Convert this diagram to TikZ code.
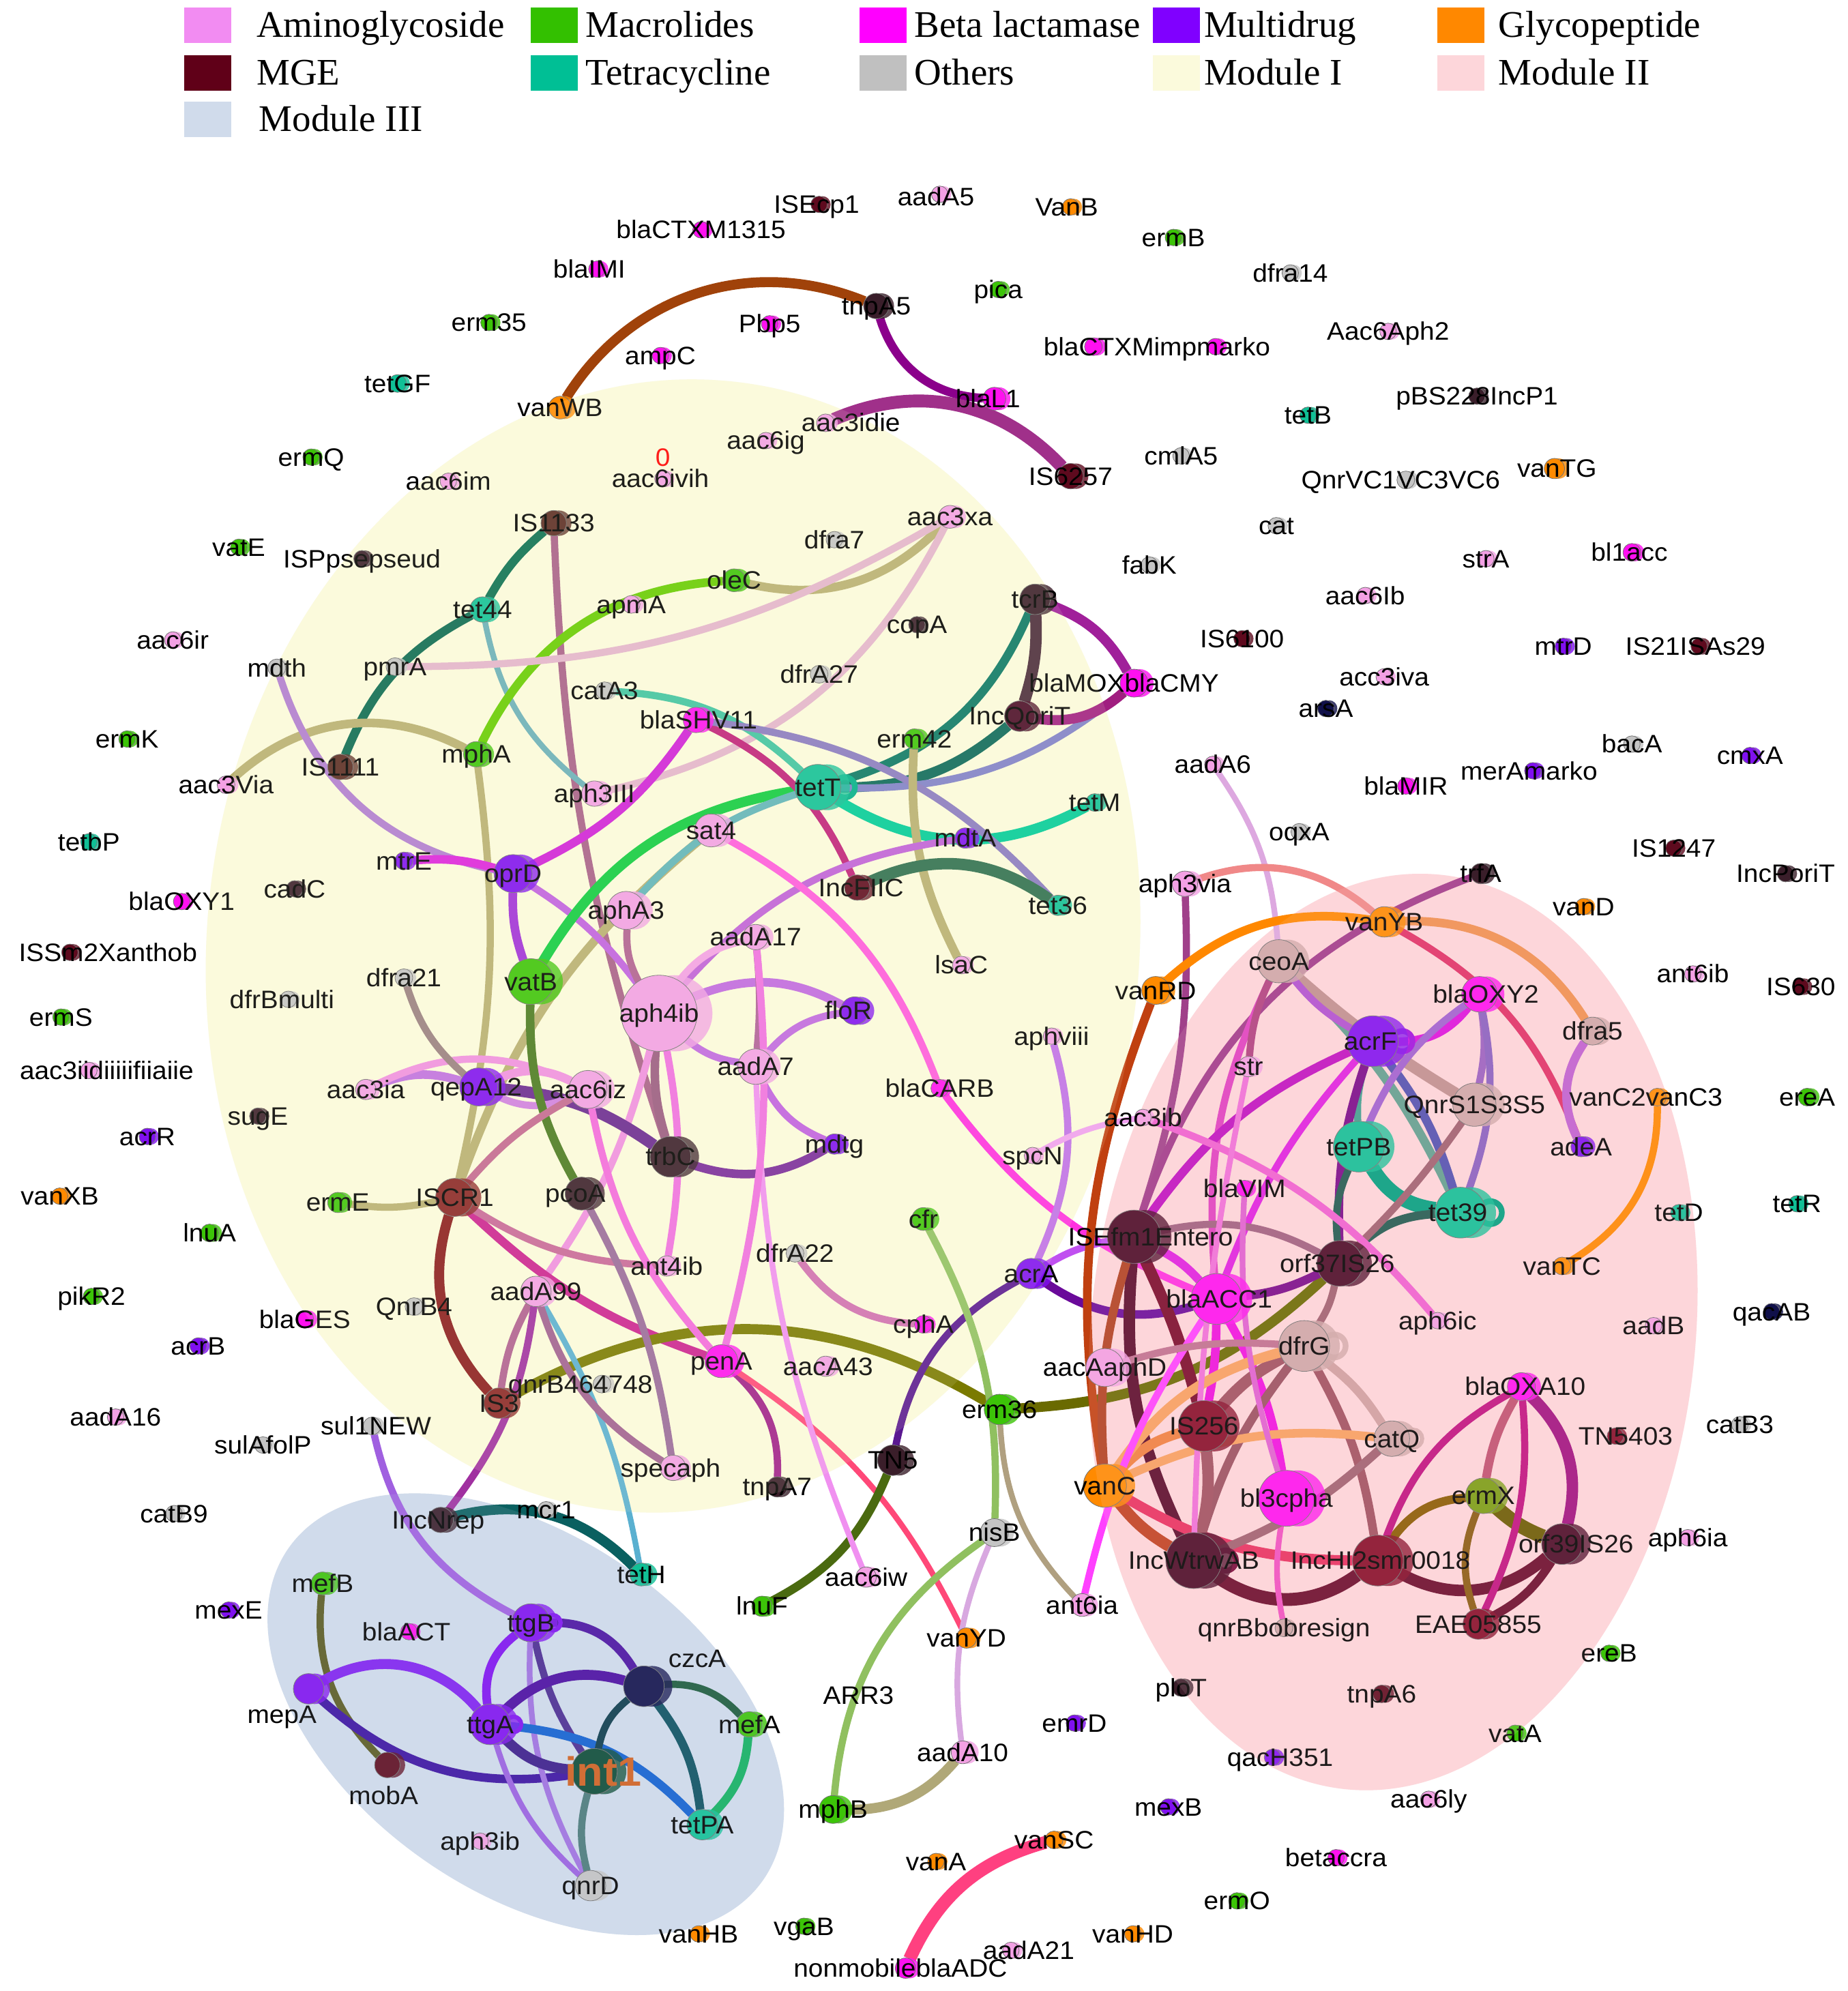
\documentclass[tikz,border=0pt]{standalone}
\usepackage{fontspec}
\usetikzlibrary{calc}
\newfontfamily\labf[FakeStretch=1.05]{Liberation Sans}
\newfontfamily\legf{Liberation Serif}
\pgfdeclarelayer{bg}\pgfdeclarelayer{edges}\pgfdeclarelayer{labels}\pgfdeclarelayer{over}
\pgfsetlayers{bg,edges,main,labels,over}
\definecolor{Am}{HTML}{F3A0E4}
\definecolor{Ma}{HTML}{3CC408}
\definecolor{MaO}{HTML}{7A9E12}
\definecolor{Be}{HTML}{FF10F0}
\definecolor{Mu}{HTML}{8010F0}
\definecolor{Gl}{HTML}{FF8A00}
\definecolor{Mg}{HTML}{5E0A1E}
\definecolor{MgD}{HTML}{4A0A26}
\definecolor{Mr}{HTML}{860C28}
\definecolor{Mr2}{HTML}{8A2424}
\definecolor{Br}{HTML}{5A2A22}
\definecolor{Dk}{HTML}{3A1E2A}
\definecolor{Nv}{HTML}{10104A}
\definecolor{Te}{HTML}{10C096}
\definecolor{Ot}{HTML}{C4C4C4}
\definecolor{OtP}{HTML}{CFA8A8}
\definecolor{IntG}{HTML}{0A4A34}
\definecolor{IntO}{HTML}{D2601E}
\definecolor{LAm}{HTML}{F28CF2}
\definecolor{LMa}{HTML}{33C000}
\definecolor{LBe}{HTML}{FF00FF}
\definecolor{LMu}{HTML}{8000FF}
\definecolor{LGl}{HTML}{FF8800}
\definecolor{LMg}{HTML}{600018}
\definecolor{LTe}{HTML}{00BF95}
\definecolor{LOt}{HTML}{C0C0C0}
\definecolor{mI}{HTML}{FBFADC}
\definecolor{mII}{HTML}{FDD6DA}
\definecolor{mIII}{HTML}{D0DBEB}
\definecolor{txI}{HTML}{3A3A24}
\tikzset{
 nc/.style={circle,draw=black!55,line width=0.8pt,inner sep=0pt,outer sep=0pt},
 lab/.style={font=\labf\fontsize{37}{40}\selectfont,inner sep=0pt,text height=26pt,text depth=0pt,anchor=center},
 leg/.style={font=\legf\fontsize{55}{60}\selectfont,inner sep=0pt},
}
\newcommand\nd[6]{%
 \fill[#4,fill opacity=0.8] ($(#2)+(0.4*#3,0)$) circle[radius=#3*1.862pt];
 \node[nc,fill=#4,minimum size=#3*3.724pt] (#1) at (#2) {};
 \begin{pgfonlayer}{labels}\node[lab] at ($(#2)+(#6)$) {#5};\end{pgfonlayer}}
\newcommand\E[5]{\definecolor{tmpc}{HTML}{#1}\draw[tmpc,line width=#2*2.1pt] (#4) to[#3] (#5);}
\newcommand\ring[4]{\definecolor{tmpc}{HTML}{#3}\draw[tmpc,line width=#4*2.1pt] ($(#1.east)+(0.4*#2,0)$) circle[radius=#2*1.862pt];}
\newcommand\legitem[5]{\fill[#3] (#1,#2-14) rectangle (#1+37,#2+14);
 \node[leg,anchor=base west] at (#4,#2+9.5) {#5};}
\begin{document}
\begin{tikzpicture}[x=1.862pt,y=-1.862pt]
\useasboundingbox (0,0) rectangle (1455,1568);
\begin{pgfonlayer}{bg}
\fill[white] (0,0) rectangle (1455,1568);
\fill[mI,rotate around={-6:(530,745)}] (530,745) ellipse[x radius=367*1.862pt,y radius=447*1.862pt];
\fill[mII,rotate around={-6:(1097,1049)}] (1097,1049) ellipse[x radius=238*1.862pt,y radius=362*1.862pt];
\fill[mIII,rotate around={-35:(414,1350)}] (414,1350) ellipse[x radius=228*1.862pt,y radius=140*1.862pt];
\end{pgfonlayer}
% legend
\legitem{145}{20}{LAm}{202}{Aminoglycoside}
\legitem{418}{20}{LMa}{461}{Macrolides}
\legitem{677}{20}{LBe}{720}{Beta lactamase}
\legitem{908}{20}{LMu}{948}{Multidrug}
\legitem{1132}{20}{LGl}{1180}{Glycopeptide}
\legitem{145}{57.5}{LMg}{202}{MGE}
\legitem{418}{57.5}{LTe}{461}{Tetracycline}
\legitem{677}{57.5}{LOt}{720}{Others}
\legitem{908}{57.5}{mI}{948}{Module I}
\legitem{1132}{57.5}{mII}{1180}{Module II}
\legitem{145}{94}{mIII}{204}{Module III}
% nodes
\nd{ISEcp1}{645,161}{6.5}{Mg}{ISEcp1}{-2,0}
\nd{aadA5}{740,153}{6.5}{Am}{aadA5}{-3,2}
\nd{VanB}{843,163}{6.5}{Gl}{VanB}{-3,0}
\nd{blaCTXM1315}{552,181}{6.5}{Be}{blaCTXM1315}{0,0}
\nd{ermB}{924,187}{6.5}{Ma}{ermB}{0,0}
\nd{blaIMI}{470,212}{6.5}{Be}{blaIMI}{-6,0}
\nd{dfra14}{1016,215}{6.5}{Ot}{dfra14}{0,0}
\nd{pica}{786,228}{6.5}{Ma}{pica}{0,0}
\nd{erm35}{385,254}{6.5}{Ma}{erm35}{0,0}
\nd{tnpA5}{690,241}{10}{Dk}{tnpA5}{0,0}
\nd{Pbp5}{606,255}{6.5}{Be}{Pbp5}{0,0}
\nd{Aac6Aph2}{1093,261}{6.5}{Am}{Aac6Aph2}{0,0}
\nd{blaCTXM}{861,273}{7}{Be}{blaCTXMimpmarko}{50,0}
\nd{impmarko}{957,273}{6.5}{Be}{}{0,0}
\nd{ampC}{520,280}{6.5}{Be}{ampC}{0,0}
\nd{tetGF}{313,302}{7}{Te}{tetGF}{0,0}
\nd{vanWB}{441,321}{9}{Gl}{vanWB}{0,0}
\nd{tetB}{1030,327}{6.5}{Te}{tetB}{0,0}
\nd{pBS228IncP1}{1163,312}{6.5}{Dk}{pBS228IncP1}{0,0}
\nd{blaL1}{783,314}{9}{Be}{blaL1}{-5,0}
\nd{aac3idie}{650,333}{7}{Am}{aac3idie}{20,0}
\nd{aac6ig}{603,347}{6.5}{Am}{aac6ig}{0,0}
\nd{aac6ivih}{522,377}{6.5}{Am}{aac6ivih}{-2,0}
\nd{aac6im}{353,379}{6.5}{Am}{aac6im}{0,0}
\nd{ermQ}{245,360}{6.5}{Ma}{ermQ}{0,0}
\nd{IS6257}{843,375}{10}{Mg}{IS6257}{0,0}
\nd{cmlA5}{930,359}{6.5}{Ot}{cmlA5}{0,0}
\nd{QnrVC1VC3VC6}{1107,378}{7}{Ot}{QnrVC1VC3VC6}{-4,0}
\nd{vanTG}{1224,369}{8}{Gl}{vanTG}{2,0}
\nd{vatE}{188,431}{6.5}{Ma}{vatE}{0,0}
\nd{ISPp}{285,440}{6.5}{Dk}{ISPpsepseud}{0,0}
\nd{IS1133}{436,412}{10}{Br}{IS1133}{0,0}
\nd{dfra7}{657,425}{6.5}{Ot}{dfra7}{0,0}
\nd{aac3xa}{748,407}{9}{Am}{aac3xa}{0,0}
\nd{cat}{1005,414}{6.5}{Ot}{cat}{0,0}
\nd{strA}{1170,440}{6.5}{Am}{strA}{0,0}
\nd{bl1acc}{1285,435}{7}{Be}{bl1acc}{-2,0}
\nd{fabK}{905,445}{6.5}{Ot}{fabK}{0,0}
\nd{oleC}{578,457}{9}{Ma}{oleC}{0,0}
\nd{tet44}{380,480}{10}{Te}{tet44}{0,0}
\nd{apmA}{497,476}{7}{Am}{apmA}{0,0}
\nd{copA}{722,492}{6.5}{Dk}{copA}{0,0}
\nd{tcrB}{815,472}{12}{Dk}{tcrB}{0,0}
\nd{aac6Ib}{1075,469}{6.5}{Am}{aac6Ib}{0,0}
\nd{IS6100}{978,503}{6.5}{Mg}{IS6100}{0,0}
\nd{mtrD}{1231,509}{6.5}{Mu}{mtrD}{0,0}
\nd{IS21ISAs29}{1338,509}{6.5}{Mg}{IS21ISAs29}{-3,0}
\nd{aac6ir}{136,504}{6.5}{Am}{aac6ir}{0,0}
\nd{mdth}{218,526}{7}{Ot}{mdth}{0,0}
\nd{pmrA}{311,525}{7}{Ot}{pmrA}{0,0}
\nd{catA3}{476,544}{7}{Ot}{catA3}{0,0}
\nd{dfrA27}{645,531}{7}{Ot}{dfrA27}{0,0}
\nd{blaSHV11}{548,567}{10}{Be}{blaSHV11}{2,0}
\nd{blaMOX}{893,538}{11}{Be}{blaMOXblaCMY}{-8,0}
\nd{IncQoriT}{803,564}{12}{MgD}{IncQoriT}{0,0}
\nd{acc3iva}{1090,533}{6.5}{Am}{acc3iva}{0,0}
\nd{arsA}{1044,558}{6.5}{Nv}{arsA}{0,0}
\nd{ermK}{100,582}{6.5}{Ma}{ermK}{0,0}
\nd{IS1111}{268,604}{10}{Br}{IS1111}{0,0}
\nd{mphA}{375,594}{10}{Ma}{mphA}{0,0}
\nd{erm42}{720,582}{8}{Ma}{erm42}{0,0}
\nd{tetT}{644,620}{18}{Te}{tetT}{0,0}
\nd{aadA6}{955,602}{6.5}{Am}{aadA6}{0,0}
\nd{blaMIR}{1107,619}{6.5}{Be}{blaMIR}{0,0}
\nd{merAmarko}{1207,607}{6.5}{Mu}{merAmarko}{-3,0}
\nd{bacA}{1285,586}{6.5}{Ot}{bacA}{0,0}
\nd{cmxA}{1378,595}{6.5}{Mu}{cmxA}{0,0}
\nd{aac3Via}{178,618}{7}{Am}{aac3Via}{0,0}
\nd{aph3III}{468,625}{10}{Am}{aph3III}{0,0}
\nd{sat4}{560,654}{13}{Am}{sat4}{0,0}
\nd{tetM}{862,632}{7}{Te}{tetM}{0,0}
\nd{tetbP}{70,663}{6.5}{Te}{tetbP}{0,0}
\nd{oqxA}{1023,655}{6.5}{Ot}{oqxA}{0,0}
\nd{IS1247}{1318,668}{6.5}{Mg}{IS1247}{0,0}
\nd{IncPoriT}{1406,688}{6.5}{Dk}{IncPoriT}{0,0}
\nd{mtrE}{318,678}{7}{Mu}{mtrE}{0,0}
\nd{oprD}{404,688}{15}{Mu}{oprD}{0,0}
\nd{mdtA}{760,660}{8}{Mu}{mdtA}{0,0}
\nd{cadC}{232,700}{6.5}{Dk}{cadC}{0,0}
\nd{blaOXY1}{143,710}{6.5}{Be}{blaOXY1}{0,0}
\nd{aphA3}{493,717}{15}{Am}{aphA3}{0,0}
\nd{IncFIIC}{675,699}{10}{Mg}{IncFIIC}{3,0}
\nd{tet36}{833,713}{8}{Te}{tet36}{0,0}
\nd{aph3via}{933,696}{10}{Am}{aph3via}{0,0}
\nd{trfA}{1166,688}{8}{Dk}{trfA}{0,0}
\nd{vanD}{1247,714}{6.5}{Gl}{vanD}{0,0}
\nd{ISSm2}{55,750}{6.5}{Mg}{ISSm2Xanthob}{30,0}
\nd{aadA17}{595,738}{10}{Am}{aadA17}{0,0}
\nd{lsaC}{757,760}{7}{Am}{lsaC}{0,0}
\nd{vanYB}{1090,726}{12}{Gl}{vanYB}{0,0}
\nd{ceoA}{1007,757}{17}{OtP}{ceoA}{0,0}
\nd{dfra21}{318,770}{7}{Ot}{dfra21}{0,0}
\nd{vatB}{418,773}{18}{Ma}{vatB}{0,0}
\nd{aph4ib}{519,798}{30}{Am}{aph4ib}{0,0}
\nd{floR}{673,796}{11}{Mu}{floR}{-5,0}
\nd{vanRD}{910,780}{11}{Gl}{vanRD}{0,0}
\nd{blaOXY2}{1165,783}{14}{Be}{blaOXY2}{5,0}
\nd{dfrBmulti}{227,787}{6.5}{Ot}{dfrBmulti}{-5,0}
\nd{ermS}{48,801}{6.5}{Ma}{ermS}{0,0}
\nd{ant6ib}{1333,767}{6.5}{Am}{ant6ib}{0,0}
\nd{IS630}{1418,777}{6.5}{Mg}{IS630}{0,0}
\nd{dfra5}{1254,812}{11}{OtP}{dfra5}{0,0}
\nd{acrF}{1081,820}{20}{Mu}{acrF}{-2,0}
\nd{aphviii}{828,816}{6.5}{Am}{aphviii}{0,0}
\nd{aac3iid}{70,843}{6.5}{Am}{aac3iidiiiiifiiaiie}{14,0}
\nd{qepA12}{377,856}{15}{Mu}{qepA12}{-2,0}
\nd{aac3ia}{288,858}{8}{Am}{aac3ia}{0,0}
\nd{aac6iz}{463,858}{15}{Am}{aac6iz}{0,0}
\nd{aadA7}{595,840}{14}{Am}{aadA7}{0,0}
\nd{blaCARB}{740,857}{7}{Be}{blaCARB}{0,0}
\nd{str}{983,840}{8}{Am}{str}{0,0}
\nd{QnrS}{1161,870}{17}{OtP}{QnrS1S3S5}{0,0}
\nd{mdtg}{657,901}{8}{Mu}{mdtg}{0,0}
\nd{trbC}{528,911}{16}{Dk}{trbC}{0,0}
\nd{sugE}{203,879}{6.5}{Dk}{sugE}{0,0}
\nd{aac3ib}{900,880}{6.5}{Am}{aac3ib}{0,0}
\nd{spcN}{813,910}{6.5}{Am}{spcN}{0,0}
\nd{tetPB}{1070,903}{20}{Te}{tetPB}{0,0}
\nd{adeA}{1245,903}{8}{Mu}{adeA}{0,0}
\nd{vanC2vanC3}{1305,864}{7}{Gl}{vanC2vanC3}{-9,0}
\nd{ereA}{1423,864}{7}{Ma}{ereA}{0,0}
\nd{acrR}{116,895}{6.5}{Mu}{acrR}{0,0}
\nd{vanXB}{47,942}{6.5}{Gl}{vanXB}{0,0}
\nd{ermE}{266,947}{8}{Ma}{ermE}{0,0}
\nd{ISCR1}{358,943}{15}{Mr2}{ISCR1}{0,0}
\nd{pcoA}{458,940}{13}{Dk}{pcoA}{-5,0}
\nd{blaVIM}{980,936}{6.5}{Be}{blaVIM}{0,0}
\nd{tet39}{1150,955}{20}{Te}{tet39}{-2,0}
\nd{cfr}{727,960}{9}{Ma}{cfr}{0,0}
\nd{ISEfm1}{893,974}{21}{MgD}{ISEfm1Entero}{13,0}
\nd{orf37IS26}{1055,995}{18}{MgD}{orf37IS26}{-2,0}
\nd{tetD}{1322,955}{6.5}{Te}{tetD}{0,0}
\nd{tetR}{1415,948}{6.5}{Te}{tetR}{0,0}
\nd{lnuA}{165,971}{7}{Ma}{lnuA}{0,0}
\nd{acrA}{812,1003}{12}{Mu}{acrA}{0,0}
\nd{ant4ib}{525,997}{8}{Am}{ant4ib}{0,0}
\nd{dfrA22}{626,987}{7}{Ot}{dfrA22}{0,0}
\nd{blaACC1}{958,1023}{20}{Be}{blaACC1}{2,0}
\nd{vanTC}{1230,997}{7}{Gl}{vanTC}{0,0}
\nd{pikR2}{72,1021}{6.5}{Ma}{pikR2}{0,0}
\nd{blaGES}{240,1039}{7}{Be}{blaGES}{0,0}
\nd{QnrB4}{326,1029}{7}{Ot}{QnrB4}{0,0}
\nd{aadA99}{422,1017}{12}{Am}{aadA99}{0,0}
\nd{cphA}{727,1043}{7}{Be}{cphA}{0,0}
\nd{aph6ic}{1132,1040}{6.5}{Am}{aph6ic}{0,0}
\nd{aadB}{1302,1044}{6.5}{Am}{aadB}{0,0}
\nd{qacAB}{1395,1033}{6.5}{Nv}{qacAB}{0,0}
\nd{acrB}{156,1060}{6.5}{Mu}{acrB}{0,0}
\nd{aacAaphD}{870,1077}{15}{Am}{aacAaphD}{0,0}
\nd{dfrG}{1027,1060}{20}{OtP}{dfrG}{0,0}
\nd{penA}{568,1072}{13}{Be}{penA}{0,0}
\nd{qnrB46}{474,1090}{7}{Ot}{qnrB464748}{-17,0}
\nd{IS3}{393,1105}{12}{Mr2}{IS3}{0,0}
\nd{aacA43}{650,1076}{8}{Am}{aacA43}{2,0}
\nd{blaOXA10}{1198,1092}{11}{Be}{blaOXA10}{3,0}
\nd{aadA16}{91,1116}{6.5}{Am}{aadA16}{0,0}
\nd{erm36}{787,1110}{12}{Ma}{erm36}{0,0}
\nd{TN5403}{1272,1131}{6.5}{Mr}{TN5403}{8,0}
\nd{catB3}{1370,1122}{6.5}{Ot}{catB3}{0,0}
\nd{IS256}{948,1123}{20}{Mr}{IS256}{0,0}
\nd{catQ}{1096,1133}{14}{OtP}{catQ}{0,0}
\nd{sul1NEW}{293,1123}{7}{Ot}{sul1NEW}{3,0}
\nd{sulAfolP}{207,1138}{6.5}{Ot}{sulAfolP}{0,0}
\nd{TN5}{703,1150}{12}{Dk}{TN5}{0,0}
\nd{tnpA7}{612,1171}{8}{Dk}{tnpA7}{0,0}
\nd{specaph}{530,1156}{10}{Am}{specaph}{-2,0}
\nd{vanC}{870,1170}{17}{Gl}{vanC}{0,0}
\nd{bl3cpha}{1013,1180}{22}{Be}{bl3cpha}{0,0}
\nd{catB9}{137,1192}{6.5}{Ot}{catB9}{0,0}
\nd{ermX}{1168,1178}{14}{MaO}{ermX}{0,0}
\nd{IncWtrwAB}{940,1229}{22}{MgD}{IncWtrwAB}{0,0}
\nd{IncHI2}{1085,1229}{20}{Mr}{IncHI2smr0018}{2,0}
\nd{orf39IS26}{1230,1216}{16}{MgD}{orf39IS26}{11,0}
\nd{aph6ia}{1329,1211}{6.5}{Am}{aph6ia}{0,0}
\nd{IncNrep}{347,1197}{10}{Dk}{IncNrep}{-2,0}
\nd{mcr1}{430,1189}{6.5}{Ot}{mcr1}{0,0}
\nd{tetH}{505,1240}{9}{Te}{tetH}{0,0}
\nd{mefB}{254,1247}{9}{Ma}{mefB}{0,0}
\nd{nisB}{783,1207}{11}{Ot}{nisB}{0,0}
\nd{lnuF}{600,1265}{8}{Ma}{lnuF}{0,0}
\nd{aac6iw}{682,1242}{8}{Am}{aac6iw}{0,0}
\nd{ant6ia}{852,1264}{9}{Am}{ant6ia}{0,0}
\nd{mexE}{180,1268}{6.5}{Mu}{mexE}{0,0}
\nd{blaACT}{322,1285}{6.5}{Be}{blaACT}{-2,0}
\nd{ttgB}{418,1278}{15}{Mu}{ttgB}{0,0}
\nd{czcA}{507,1328}{16}{Nv}{czcA}{42,-22}
\nd{qnrBbob}{1011,1282}{7}{OtP}{qnrBbobresign}{0,0}
\nd{EAE05855}{1164,1279}{12}{Mr}{EAE05855}{0,0}
\nd{ereB}{1267,1302}{6.5}{Ma}{ereB}{0,0}
\nd{vanYD}{761,1290}{8}{Gl}{vanYD}{0,0}
\nd{mepA}{243,1330}{12}{Mu}{mepA}{-21,20}
\nd{ttgA}{386,1358}{16}{Mu}{ttgA}{0,0}
\nd{mefA}{590,1358}{10}{Ma}{mefA}{0,0}
\nd{ploT}{930,1329}{7}{Dk}{ploT}{0,0}
\nd{tnpA6}{1088,1334}{7}{Mg}{tnpA6}{0,0}
\nd{emrD}{846,1357}{6.5}{Mu}{emrD}{0,0}
\nd{vatA}{1193,1365}{6.5}{Ma}{vatA}{0,0}
\nd{int1}{468,1395}{18}{IntG}{}{0,0}
\nd{mobA}{305,1390}{10}{Mg}{mobA}{-3,24}
\nd{aadA10}{758,1380}{9}{Am}{aadA10}{0,0}
\nd{qacH351}{1002,1384}{6.5}{Mu}{qacH351}{6,0}
\nd{aac6ly}{1125,1417}{6.5}{Am}{aac6ly}{0,0}
\nd{mphB}{656,1425}{11}{Ma}{mphB}{0,0}
\nd{mexB}{920,1423}{6.5}{Mu}{mexB}{0,0}
\nd{tetPA}{553,1437}{12}{Te}{tetPA}{0,0}
\nd{aph3ib}{378,1450}{6.5}{Am}{aph3ib}{0,0}
\nd{vanSC}{830,1449}{7}{Gl}{vanSC}{0,0}
\nd{vanA}{737,1466}{6.5}{Gl}{vanA}{0,0}
\nd{betaccra}{1052,1463}{6.5}{Be}{betaccra}{0,0}
\nd{qnrD}{465,1485}{12}{Ot}{qnrD}{0,0}
\nd{ermO}{974,1497}{6.5}{Ma}{ermO}{0,0}
\nd{vanHB}{550,1523}{6.5}{Gl}{vanHB}{0,0}
\nd{vgaB}{633,1517}{6.5}{Ma}{vgaB}{0,0}
\nd{vanHD}{892,1523}{6.5}{Gl}{vanHD}{0,0}
\nd{nonmob}{713,1550}{8}{Be}{nonmobileblaADC}{-4,0}
\nd{aadA21}{796,1536}{6.5}{Am}{aadA21}{14,0}
\begin{pgfonlayer}{labels}
\node[lab,text=red] (zero) at (522,360) {0};
\node[lab] (ARR3) at (676,1335) {ARR3};
\node[lab,font=\labf\bfseries\fontsize{60}{64}\selectfont,text height=43pt,text=IntO] (int1lab) at (475,1395) {int1};
\end{pgfonlayer}
% edges
\begin{pgfonlayer}{edges}
\E{A0420A}{7}{bend left=40}{vanWB}{tnpA5}
\E{8B008B}{6}{bend right=35}{tnpA5}{blaL1}
\E{A0308A}{9}{bend left=35}{aac3idie}{IS6257}
\E{0A7050}{6}{bend right=10}{IS1133}{tet44}
\E{0A6A50}{6}{bend right=20}{tet44}{IS1111}
\E{A86088}{5}{bend right=8}{IS1133}{trbC}
\E{6AB0B8}{4}{bend right=20}{tet44}{aph3III}
\E{66CC00}{6}{bend right=30}{oleC}{mphA}
\E{B8B070}{6}{bend right=30}{oleC}{aac3xa}
\E{E4B4CC}{5}{bend left=25}{aac3xa}{aph3III}
\E{E4B4CC}{5}{bend right=15}{pmrA}{aac3xa}
\E{B8B070}{6}{bend left=35}{aac3Via}{mphA}
\E{B8B070}{5}{bend left=10}{mphA}{ISCR1}
\E{B8B070}{6}{bend right=15}{sat4}{ISCR1}
\E{B07CD0}{5}{bend right=30}{mdth}{oprD}
\E{DD22DD}{6}{bend left=10}{mtrE}{oprD}
\E{D020D8}{6}{bend right=15}{oprD}{blaSHV11}
\E{A030D8}{6}{bend right=10}{oprD}{vatB}
\E{C060E0}{5}{bend left=10}{oprD}{aph4ib}
\E{10CC40}{7}{bend left=25}{vatB}{tetT}
\E{0A7864}{6}{bend right=25}{tetT}{tcrB}
\E{0A6858}{7}{bend right=20}{tetT}{IncQoriT}
\E{8080C8}{5}{bend right=20}{tetT}{blaMOX}
\E{00CC98}{7}{bend right=30}{tetT}{tetM}
\E{40C4A0}{5}{bend left=20}{catA3}{tetT}
\E{C0207A}{5}{bend left=20}{blaSHV11}{IncFIIC}
\E{8A7AC0}{5}{bend left=20}{blaSHV11}{tet36}
\E{4A2A3A}{8}{bend left=10}{tcrB}{IncQoriT}
\E{A0209A}{7}{bend left=20}{tcrB}{blaMOX}
\E{A01E80}{7}{bend right=25}{IncQoriT}{blaMOX}
\E{B8B070}{6}{bend right=15}{erm42}{lsaC}
\E{2E6E4E}{8}{bend left=30}{IncFIIC}{tet36}
\E{C060D8}{5}{bend right=20}{mdtA}{aph4ib}
\E{FF5ADD}{5}{bend left=20}{sat4}{blaCARB}
\E{FF30E0}{5}{bend right=15}{blaCARB}{blaACC1}
\E{60B4B8}{5}{bend right=15}{tetT}{aphA3}
\E{C068E0}{6}{bend left=25}{aph4ib}{floR}
\E{C068E0}{5}{bend right=15}{aph4ib}{aadA7}
\E{B06098}{5}{bend left=5}{aadA17}{aadA7}
\E{F4A0E4}{5}{bend right=20}{aadA17}{aph4ib}
\E{C068E0}{5}{bend left=20}{aadA7}{floR}
\E{9A5A80}{6}{bend right=10}{aph4ib}{trbC}
\E{B06090}{5}{bend right=15}{aphA3}{aph4ib}
\E{C060E0}{5}{bend right=20}{aadA7}{mdtg}
\E{F090E0}{5}{bend left=10}{aph4ib}{aadA99}
\E{F070E0}{5}{bend left=10}{aph4ib}{ant4ib}
\E{6A2890}{8}{bend left=15}{qepA12}{trbC}
\E{7A2A9A}{6}{bend right=25}{trbC}{mdtg}
\E{C070E0}{6}{bend left=20}{aac3ia}{qepA12}
\E{F090E0}{6}{bend left=25}{qepA12}{aac6iz}
\E{D080E0}{5}{bend right=25}{qepA12}{aac6iz}
\E{F090E0}{5}{bend left=25}{aac3ia}{aac6iz}
\E{4A7A20}{6}{bend right=15}{vatB}{pcoA}
\E{9A8080}{5}{bend right=15}{dfra21}{qepA12}
\E{B8B070}{5}{bend right=10}{ermE}{ISCR1}
\E{8B1C1C}{7}{bend right=30}{ISCR1}{IS3}
\E{CC2290}{6}{bend right=12}{ISCR1}{penA}
\E{C46890}{5}{bend left=10}{ISCR1}{aac6iz}
\E{C86898}{5}{bend right=15}{ISCR1}{ant4ib}
\E{7A7A00}{7}{bend left=30}{IS3}{erm36}
\E{6A6A00}{7}{bend right=20}{erm36}{orf37IS26}
\E{B06090}{5}{bend left=10}{IS3}{aadA99}
\E{A030A0}{5}{bend right=15}{IncNrep}{aadA99}
\E{A060E0}{5}{bend right=25}{sul1NEW}{ttgB}
\E{0A6060}{7}{bend left=30}{IncNrep}{tetH}
\E{5AB0D0}{4}{bend left=10}{aadA99}{tetH}
\E{A0208A}{5}{bend left=25}{penA}{tnpA7}
\E{FF4878}{4}{bend left=15}{penA}{vanYD}
\E{5A1890}{5}{bend right=25}{acrA}{TN5}
\E{4A6A10}{6}{bend left=20}{TN5}{lnuF}
\E{90C060}{5}{bend left=15}{cfr}{nisB}
\E{90C060}{5}{bend right=25}{nisB}{mphB}
\E{B0A080}{4}{bend right=20}{erm36}{ant6ia}
\E{D8A8E0}{4}{bend right=15}{nisB}{aadA10}
\E{B0A878}{7}{bend left=25}{aadA10}{mphB}
\E{F090F0}{4}{bend left=10}{aac6iw}{aadA7}
\E{F070E0}{5}{bend right=10}{penA}{aadA17}
\E{F46ADD}{5}{bend left=15}{penA}{aac6iz}
\E{D070B0}{5}{bend right=25}{dfrA22}{cphA}
\E{6A0A9A}{6}{bend right=25}{acrA}{blaACC1}
\E{C050F0}{5}{bend left=10}{acrA}{ISEfm1}
\E{C070E8}{5}{bend left=20}{aphviii}{acrA}
\E{F0A0F0}{4}{bend left=10}{spcN}{aac3ib}
\E{9A6A9A}{5}{bend left=10}{pcoA}{specaph}
\E{A06090}{5}{bend right=20}{aadA99}{specaph}
\E{DDA8E0}{4}{bend left=15}{aadA6}{ceoA}
\E{F08888}{5}{bend left=30}{aph3via}{vanYB}
\E{A0408A}{5}{bend left=10}{aph3via}{ISEfm1}
\E{FF8800}{6}{bend left=25}{vanRD}{vanYB}
\E{F09050}{6}{bend left=30}{vanYB}{dfra5}
\E{C04010}{6}{bend right=15}{vanRD}{vanC}
\E{A03A8A}{5}{bend right=25}{trfA}{ISEfm1}
\E{E03066}{5}{bend left=20}{vanYB}{adeA}
\E{60A090}{6}{bend left=10}{ceoA}{tet39}
\E{C09090}{8}{bend right=5}{ceoA}{QnrS}
\E{B050D0}{5}{bend right=10}{ceoA}{acrF}
\E{E040C0}{5}{bend right=15}{ceoA}{blaACC1}
\E{B04080}{5}{bend right=10}{ceoA}{str}
\E{DD10DD}{6}{bend right=25}{acrF}{blaOXY2}
\E{40A090}{5}{bend right=10}{acrF}{tetPB}
\E{5050B0}{6}{bend left=10}{acrF}{tet39}
\E{7A0A8A}{6}{bend right=10}{acrF}{orf37IS26}
\E{C010C0}{6}{bend right=15}{acrF}{ISEfm1}
\E{E020E0}{5}{bend right=10}{acrF}{blaACC1}
\E{9A60C0}{5}{bend left=10}{blaOXY2}{QnrS}
\E{8A60C0}{5}{bend left=15}{blaOXY2}{tet39}
\E{A060D0}{5}{bend right=15}{blaOXY2}{tetPB}
\E{C060D0}{6}{bend right=30}{dfra5}{adeA}
\E{FF8800}{5}{bend left=30}{vanC2vanC3}{vanTC}
\E{00A080}{10}{bend right=25}{tetPB}{tet39}
\E{205A50}{5}{bend right=15}{tetPB}{orf37IS26}
\E{205A50}{6}{bend right=20}{tet39}{orf37IS26}
\E{A06070}{5}{bend left=5}{QnrS}{orf37IS26}
\E{E020E0}{6}{bend left=10}{ISEfm1}{blaACC1}
\E{7A0A2A}{8}{bend left=5}{ISEfm1}{IS256}
\E{5A0A2A}{8}{bend right=15}{ISEfm1}{IncWtrwAB}
\E{B04020}{6}{bend right=10}{ISEfm1}{vanC}
\E{A06080}{5}{bend left=20}{ISEfm1}{orf37IS26}
\E{7A0A8A}{6}{bend left=10}{orf37IS26}{blaACC1}
\E{A06070}{5}{bend left=10}{orf37IS26}{dfrG}
\E{EE10DD}{6}{bend left=5}{blaACC1}{IS256}
\E{F010E0}{6}{bend left=10}{blaACC1}{bl3cpha}
\E{D0A0A0}{6}{bend left=10}{dfrG}{catQ}
\E{A05060}{8}{bend right=10}{dfrG}{IS256}
\E{A05060}{6}{bend left=10}{dfrG}{IncHI2}
\E{9A5060}{6}{bend right=10}{dfrG}{IncWtrwAB}
\E{F08040}{7}{bend left=15}{vanC}{IS256}
\E{F8A060}{7}{bend left=20}{vanC}{dfrG}
\E{F8A060}{6}{bend left=15}{vanC}{catQ}
\E{C04020}{8}{bend right=10}{vanC}{IncWtrwAB}
\E{E83060}{7}{bend right=15}{vanC}{IncHI2}
\E{A05060}{8}{bend left=10}{IS256}{IncWtrwAB}
\E{6A0A2A}{9}{bend right=35}{IncWtrwAB}{IncHI2}
\E{6A0A2A}{8}{bend right=35}{IncHI2}{orf39IS26}
\E{8A5A00}{6}{bend left=25}{IncHI2}{ermX}
\E{6A5A00}{10}{bend right=10}{ermX}{orf39IS26}
\E{8A5A10}{5}{bend right=20}{ermX}{EAE05855}
\E{A01080}{8}{bend left=30}{blaOXA10}{orf39IS26}
\E{C05070}{6}{bend right=10}{blaOXA10}{ermX}
\E{C01080}{5}{bend left=15}{blaOXA10}{EAE05855}
\E{C01080}{5}{bend right=20}{blaOXA10}{IncHI2}
\E{6A0A2A}{6}{bend left=15}{orf39IS26}{EAE05855}
\E{F050C0}{4}{bend left=10}{qnrBbob}{bl3cpha}
\E{FF40FF}{5}{bend left=10}{ant6ia}{blaACC1}
\E{A06070}{6}{bend left=10}{catQ}{IncWtrwAB}
\E{F060D0}{5}{bend left=15}{aac3ib}{aph6ic}
\E{E060D0}{4}{bend right=10}{blaVIM}{bl3cpha}
\E{F070D8}{4}{bend right=5}{str}{IncWtrwAB}
\E{C07090}{5}{bend left=10}{aacAaphD}{dfrG}
\E{FF4080}{9}{bend left=25}{nonmob}{vanSC}
\E{5A5A20}{5}{bend right=25}{mefB}{mobA}
\E{8020F0}{7}{bend left=40}{mepA}{ttgA}
\E{3A10A0}{6}{bend right=25}{mepA}{int1}
\E{4A10A0}{6}{bend left=30}{ttgB}{czcA}
\E{8010F0}{6}{bend right=30}{ttgB}{ttgA}
\E{4A2A90}{5}{bend right=10}{ttgB}{int1}
\E{A070E0}{4}{bend right=15}{ttgB}{qnrD}
\E{4A0AA0}{7}{bend left=30}{ttgA}{czcA}
\E{3A1A8A}{7}{bend right=20}{ttgA}{int1}
\E{1060D0}{6}{bend left=20}{ttgA}{tetPA}
\E{9A60E0}{4}{bend right=15}{ttgA}{qnrD}
\E{0A3A4A}{5}{bend right=20}{czcA}{int1}
\E{1A5A3A}{5}{bend left=25}{czcA}{mefA}
\E{0A5060}{6}{bend left=15}{czcA}{tetPA}
\E{10B060}{6}{bend left=20}{mefA}{tetPA}
\E{4A7A7A}{5}{bend right=15}{int1}{qnrD}
\ring{tetT}{8}{00B088}{4}
\ring{acrF}{8}{A010E0}{4}
\ring{tet39}{9}{00A080}{4}
\ring{dfrG}{9}{D8B0B0}{4}
\ring{catQ}{7}{D8B0B0}{3}
\ring{IncWtrwAB}{8}{7A0A3A}{4}
\ring{ttgB}{6}{8010F0}{3}
\ring{ttgA}{6}{8010F0}{3}
\end{pgfonlayer}
\begin{pgfonlayer}{over}
\fill[mI,fill opacity=0.12,rotate around={-6:(530,745)}] (530,745) ellipse[x radius=367*1.862pt,y radius=447*1.862pt];
\fill[mII,fill opacity=0.12,rotate around={-6:(1097,1049)}] (1097,1049) ellipse[x radius=238*1.862pt,y radius=362*1.862pt];
\fill[mIII,fill opacity=0.12,rotate around={-35:(414,1350)}] (414,1350) ellipse[x radius=228*1.862pt,y radius=140*1.862pt];
\end{pgfonlayer}
\end{tikzpicture}
\end{document}
